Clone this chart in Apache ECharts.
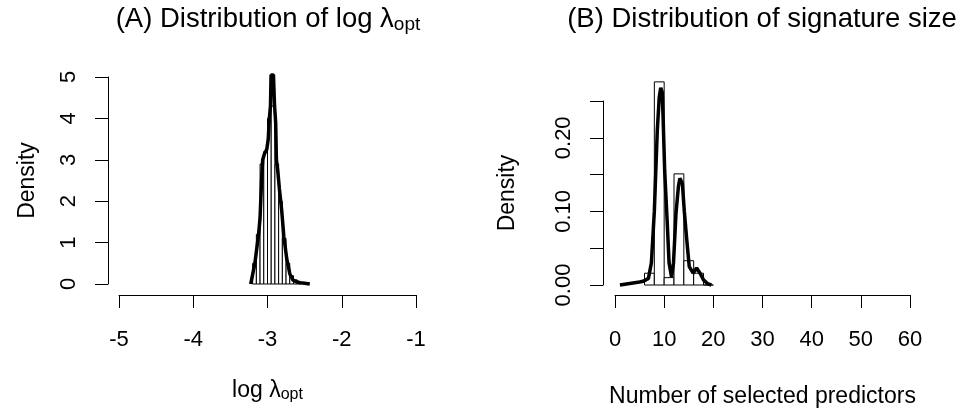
<!DOCTYPE html>
<html>
<head>
<meta charset="utf-8">
<script src="https://cdn.jsdelivr.net/npm/echarts@6/dist/echarts.min.js"></script>
<style>
  html, body { margin: 0; padding: 0; background: #fff; }
  #chart { width: 960px; height: 411px; }
</style>
</head>
<body>
<div id="chart"></div>
<script>
// (A) log lambda_opt: histogram breaks + densities, and the kernel density curve
const lambdaBreaks = [-3.20, -3.15, -3.10, -3.05, -3.00, -2.95, -2.90, -2.85, -2.80, -2.75, -2.70, -2.65, -2.60, -2.55];
const lambdaHist = [0.5, 1.2, 2.9, 3.2, 4.0, 4.3, 2.9, 2.0, 1.1, 0.5, 0.2, 0.1, 0.05];
const lambdaX = [-3.226, -3.17, -3.12, -3.10, -3.08, -3.065, -3.04, -3.01, -2.99, -2.975, -2.96, -2.952, -2.935, -2.92, -2.905, -2.89, -2.88, -2.86, -2.84, -2.81, -2.78, -2.74, -2.70, -2.66, -2.62, -2.56, -2.50, -2.43];
const lambdaDens = [0, 0.5, 1.2, 1.6, 2.5, 3.0, 3.15, 3.25, 3.5, 4.0, 4.3, 5.05, 5.08, 5.05, 4.3, 3.9, 3.0, 2.7, 2.3, 1.8, 1.15, 0.6, 0.25, 0.1, 0.06, 0.03, 0.02, 0];

// (B) signature size: histogram breaks + densities, and the density curve
const sizeBreaks = [6, 8, 10, 12, 14, 16, 18, 20];
const sizeHist = [0.016, 0.276, 0.01, 0.151, 0.033, 0.016, 0];
const sizeX = [1, 2, 3, 4, 5, 5.7, 6.3, 6.8, 7.4, 8.0, 8.6, 9.0, 9.3, 9.6, 9.8, 10.1, 10.6, 11.0, 11.5, 11.9, 12.4, 12.9, 13.2, 13.7, 14.1, 14.6, 15.1, 15.9, 16.6, 17.3, 18.0, 18.8, 19.6];
const sizeDens = [0, 0.001, 0.002, 0.003, 0.004, 0.005, 0.007, 0.009, 0.03, 0.1, 0.21, 0.255, 0.268, 0.262, 0.224, 0.156, 0.088, 0.03, 0.011, 0.03, 0.097, 0.134, 0.145, 0.138, 0.1, 0.061, 0.025, 0.016, 0.023, 0.016, 0.007, 0.002, 0];

const FONT = 'Liberation Sans';

function histData(breaks, heights) {
  return heights.map((h, i) => [breaks[i], breaks[i + 1], h]);
}

function renderBar(params, api) {
  const p0 = api.coord([api.value(0), 0]);
  const p1 = api.coord([api.value(1), api.value(2)]);
  return {
    type: 'rect',
    shape: { x: p0[0], y: p1[1], width: p1[0] - p0[0], height: p0[1] - p1[1] },
    style: { fill: '#fff', stroke: '#000', lineWidth: 1 }
  };
}

const tickStyle = { show: true, length: 13, lineStyle: { color: '#000', width: 1 } };
const lineStyle = { show: true, onZero: false, lineStyle: { color: '#000', width: 1 } };
const labelFont = { fontFamily: FONT, fontSize: 22, color: '#000' };
const nameFont = {
  fontFamily: FONT, fontSize: 23, color: '#000',
  rich: {
    m: { fontFamily: FONT, fontSize: 23, color: '#000', lineHeight: 24 },
    sub: { fontFamily: FONT, fontSize: 16, color: '#000', lineHeight: 12, verticalAlign: 'bottom' }
  }
};
const titleRich = {
  m: { fontFamily: FONT, fontSize: 27.5, fontWeight: 'normal', color: '#000', lineHeight: 29 },
  sub: { fontFamily: FONT, fontSize: 19, fontWeight: 'normal', color: '#000', lineHeight: 14, verticalAlign: 'bottom' }
};

const chart = echarts.init(document.getElementById('chart'), null, { renderer: 'canvas' });

chart.setOption({
  backgroundColor: '#fff',
  animation: false,
  title: [
    { text: '{m|(A) Distribution of log λ}{sub|opt}', left: 263, top: 0, textAlign: 'center', textStyle: { fontWeight: 'normal', rich: titleRich } },
    { text: '{m|(B) Distribution of signature size}', left: 757, top: 0, textAlign: 'center', textStyle: { fontWeight: 'normal', rich: titleRich } }
  ],
  grid: [
    { left: 119, right: 544, top: 77, bottom: 127 },
    { left: 615, right: 50, top: 101, bottom: 126 }
  ],
  xAxis: [
    {
      gridIndex: 0, type: 'value', min: -5, max: -1, interval: 1, offset: 11,
      axisLine: lineStyle, axisTick: tickStyle, splitLine: { show: false },
      axisLabel: Object.assign({ margin: 34 }, labelFont),
      name: '{m|log λ}{sub|opt}', nameLocation: 'middle', nameGap: 84, nameTextStyle: nameFont
    },
    {
      gridIndex: 1, type: 'value', min: 0, max: 60, interval: 10, offset: 10,
      axisLine: lineStyle, axisTick: tickStyle, splitLine: { show: false },
      axisLabel: Object.assign({ margin: 34 }, labelFont),
      name: 'Number of selected predictors', nameLocation: 'middle', nameGap: 90, nameTextStyle: nameFont
    }
  ],
  yAxis: [
    {
      gridIndex: 0, type: 'value', min: 0, max: 5, interval: 1, offset: 11,
      axisLine: lineStyle, axisTick: tickStyle, splitLine: { show: false },
      axisLabel: Object.assign({ margin: 28, rotate: 90 }, labelFont),
      name: 'Density', nameLocation: 'middle', nameGap: 69, nameTextStyle: nameFont
    },
    {
      gridIndex: 1, type: 'value', min: 0, max: 0.25, interval: 0.05, offset: 12,
      axisLine: lineStyle, axisTick: tickStyle, splitLine: { show: false },
      axisLabel: Object.assign({
        margin: 28, rotate: 90, showMinLabel: true, showMaxLabel: true,
        formatter: v => (Math.round(v * 100) % 10 === 0 ? v.toFixed(2) : '')
      }, labelFont),
      name: 'Density', nameLocation: 'middle', nameGap: 84, nameTextStyle: nameFont
    }
  ],
  series: [
    {
      type: 'custom', xAxisIndex: 0, yAxisIndex: 0, clip: false,
      renderItem: renderBar, encode: { x: [0, 1], y: 2 },
      data: histData(lambdaBreaks, lambdaHist)
    },
    {
      type: 'line', xAxisIndex: 0, yAxisIndex: 0, clip: false, showSymbol: false, symbol: 'none',
      lineStyle: { color: '#000', width: 3.5 },
      data: lambdaX.map((x, i) => [x, lambdaDens[i]])
    },
    {
      type: 'custom', xAxisIndex: 1, yAxisIndex: 1, clip: false,
      renderItem: renderBar, encode: { x: [0, 1], y: 2 },
      data: histData(sizeBreaks, sizeHist)
    },
    {
      type: 'line', xAxisIndex: 1, yAxisIndex: 1, clip: false, showSymbol: false, symbol: 'none',
      lineStyle: { color: '#000', width: 3.5 },
      data: sizeX.map((x, i) => [x, sizeDens[i]])
    }
  ]
});
</script>
</body>
</html>
